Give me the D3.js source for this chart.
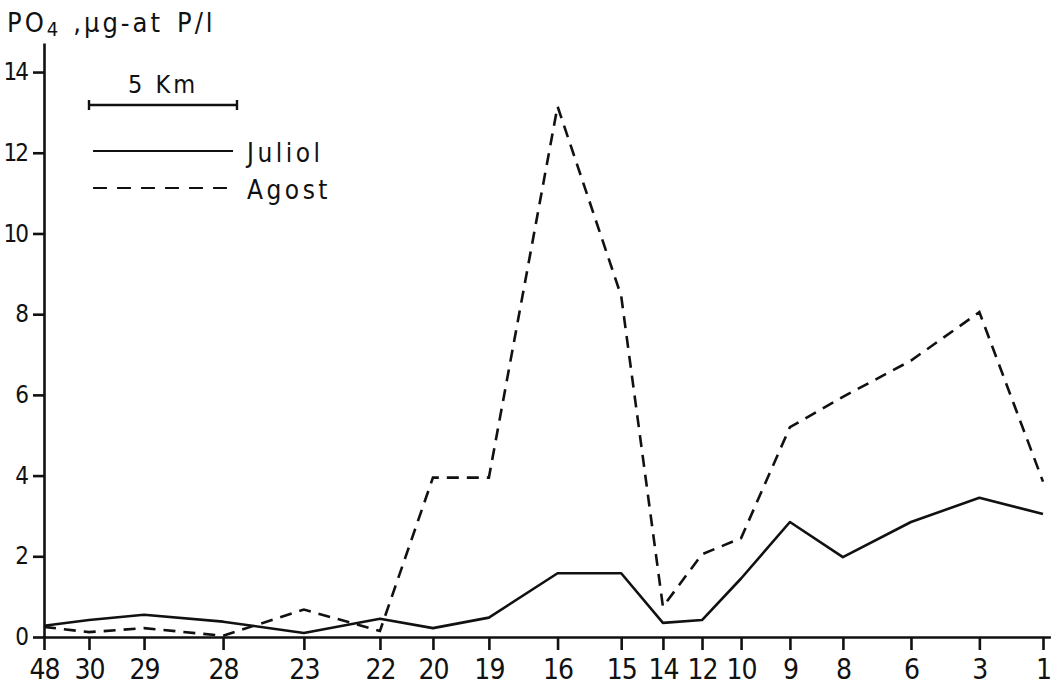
<!DOCTYPE html>
<html>
<head>
<meta charset="utf-8">
<script src="https://cdn.jsdelivr.net/npm/d3@7"></script>
<style>
  body { margin: 0; background: #fff; }
  svg text { font-family: "Liberation Sans Narrow", "DejaVu Sans Condensed", sans-serif; fill: #111; }
</style>
</head>
<body>
<svg id="chart" width="1057" height="687"></svg>
<script>
// stations along the transect, and their distance from station 48 (km)
const stations = ["48", "30", "29", "28", "23", "22", "20", "19", "16", "15", "14", "12", "10", "9", "8", "6", "3", "1"];
const distKm = [0, 1.52, 3.38, 6.05, 8.78, 11.35, 13.14, 15.03, 17.35, 19.5, 20.91, 22.23, 23.55, 25.2, 26.99, 29.29, 31.6, 33.75];

// PO4 (ug-at P/l)
const juliol = [0.28, 0.42, 0.55, 0.38, 0.1, 0.45, 0.22, 0.48, 1.58, 1.58, 0.35, 0.42, 1.45, 2.85, 1.98, 2.85, 3.45, 3.05];
const agost = [0.25, 0.12, 0.22, 0.03, 0.68, 0.15, 3.95, 3.95, 13.15, 8.45, 0.75, 2.05, 2.45, 5.2, 5.95, 6.85, 8.05, 3.85];

const yTicks = [0, 2, 4, 6, 8, 10, 12, 14];

const svg = d3.select("#chart");
const ink = "#111";

const x = d3.scaleLinear().domain([0, 34]).range([44, 1050.4]);
const y = d3.scaleLinear().domain([0, 14.72]).range([637, 43]);

// Y axis
const yAxis = svg.append("g")
  .attr("transform", "translate(" + x(0) + ",0)")
  .call(d3.axisLeft(y).tickValues(yTicks).tickSize(11).tickSizeOuter(0).tickPadding(6));
yAxis.selectAll("text")
  .style("font-size", "24px")
  .style("letter-spacing", "-2px");

// X axis
const xAxis = svg.append("g")
  .attr("transform", "translate(0," + y(0) + ")")
  .call(d3.axisBottom(x).tickValues(distKm).tickFormat((d, i) => stations[i]).tickSize(13).tickSizeOuter(0).tickPadding(9));
xAxis.selectAll("text")
  .style("font-size", "28px")
  .style("letter-spacing", "-1px");

svg.selectAll(".domain, .tick line").attr("stroke", ink).attr("stroke-width", 2.6);

// lines
const line = d3.line()
  .x((d, i) => x(distKm[i]))
  .y(d => y(d));

svg.append("path")
  .datum(juliol)
  .attr("d", line)
  .attr("fill", "none")
  .attr("stroke", ink)
  .attr("stroke-width", 2.6)
  .attr("stroke-linejoin", "round");

svg.append("path")
  .datum(agost)
  .attr("d", line)
  .attr("fill", "none")
  .attr("stroke", ink)
  .attr("stroke-width", 2.6)
  .attr("stroke-dasharray", "12,8");

// axis title
const title = svg.append("text")
  .attr("x", 7)
  .attr("y", 32)
  .style("font-size", "27px")
  .style("letter-spacing", "3px");
title.append("tspan").text("PO");
title.append("tspan").attr("dy", 4).style("font-size", "20px").text("4");
title.append("tspan").attr("dy", -4).attr("dx", 12).text(",μg-at");
title.append("tspan").attr("dx", 14).text("P/l");

// scale bar (5 km)
const bar = svg.append("g").attr("transform", "translate(" + (89 - x(0)) + ",105)");
bar.append("line")
  .attr("x1", x(0)).attr("x2", x(5))
  .attr("stroke", ink).attr("stroke-width", 2.4);
bar.selectAll(".end")
  .data([0, 5])
  .enter()
  .append("line")
  .attr("x1", d => x(d)).attr("x2", d => x(d))
  .attr("y1", -5).attr("y2", 5)
  .attr("stroke", ink).attr("stroke-width", 2.4);
bar.append("text")
  .attr("x", (x(0) + x(5)) / 2)
  .attr("y", -12)
  .attr("text-anchor", "middle")
  .style("font-size", "25px")
  .style("letter-spacing", "3px")
  .text("5 Km");

// legend
const legend = svg.append("g");
const items = [{ name: "Juliol", dash: null }, { name: "Agost", dash: "14,10" }];
items.forEach((it, i) => {
  const ly = 151 + i * 37;
  legend.append("line")
    .attr("x1", 93).attr("x2", 233)
    .attr("y1", ly).attr("y2", ly)
    .attr("stroke", ink).attr("stroke-width", 2.2)
    .attr("stroke-dasharray", it.dash);
  legend.append("text")
    .attr("x", 247)
    .attr("y", ly + 11)
    .style("font-size", "26px")
    .style("letter-spacing", "3.5px")
    .text(it.name);
});
</script>
</body>
</html>
